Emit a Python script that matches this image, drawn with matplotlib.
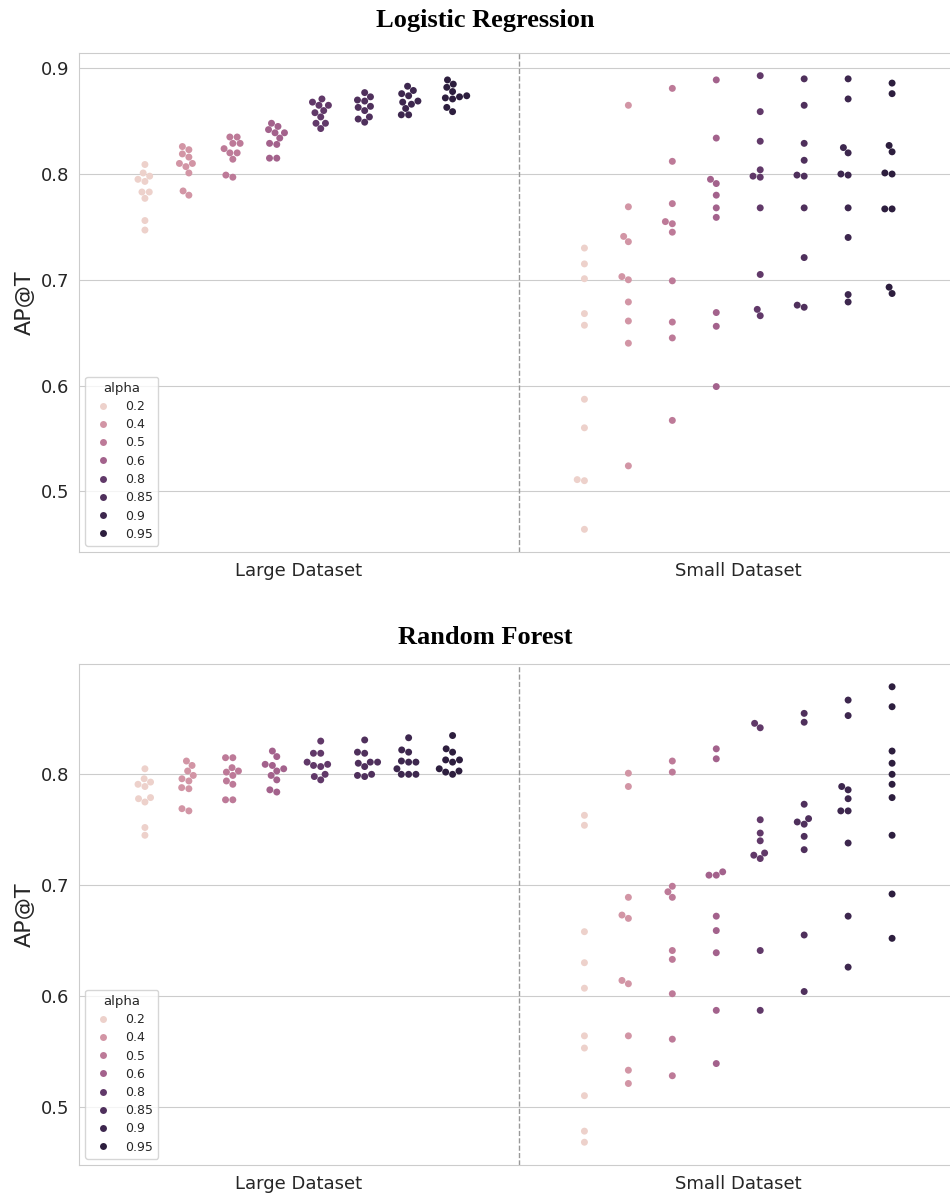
import numpy as np
import pandas as pd
import matplotlib
matplotlib.use("Agg")
import matplotlib.pyplot as plt
import seaborn as sns

# Hue levels and the two dataset sizes
alphas = [0.2, 0.4, 0.5, 0.6, 0.8, 0.85, 0.9, 0.95]
datasets = ["Large Dataset", "Small Dataset"]

# AP@T for each alpha (10 runs each), logistic regression
lr_large = [
    [0.809, 0.801, 0.798, 0.795, 0.793, 0.783, 0.783, 0.777, 0.756, 0.747],
    [0.826, 0.823, 0.819, 0.816, 0.810, 0.810, 0.807, 0.801, 0.784, 0.780],
    [0.835, 0.835, 0.829, 0.829, 0.824, 0.820, 0.820, 0.814, 0.799, 0.797],
    [0.848, 0.845, 0.842, 0.839, 0.839, 0.834, 0.829, 0.828, 0.815, 0.815],
    [0.871, 0.868, 0.865, 0.865, 0.860, 0.858, 0.854, 0.848, 0.848, 0.843],
    [0.877, 0.873, 0.870, 0.869, 0.864, 0.863, 0.860, 0.854, 0.852, 0.849],
    [0.883, 0.879, 0.876, 0.874, 0.869, 0.868, 0.866, 0.862, 0.856, 0.856],
    [0.889, 0.885, 0.882, 0.878, 0.874, 0.873, 0.872, 0.871, 0.863, 0.859],
]
lr_small = [
    [0.730, 0.715, 0.701, 0.668, 0.657, 0.587, 0.560, 0.511, 0.510, 0.464],
    [0.865, 0.769, 0.741, 0.736, 0.703, 0.700, 0.679, 0.661, 0.640, 0.524],
    [0.881, 0.812, 0.772, 0.755, 0.753, 0.745, 0.699, 0.660, 0.645, 0.567],
    [0.889, 0.834, 0.795, 0.791, 0.780, 0.768, 0.759, 0.669, 0.656, 0.599],
    [0.893, 0.859, 0.831, 0.804, 0.798, 0.797, 0.768, 0.705, 0.672, 0.666],
    [0.890, 0.865, 0.829, 0.813, 0.799, 0.798, 0.768, 0.721, 0.676, 0.674],
    [0.890, 0.871, 0.825, 0.820, 0.800, 0.799, 0.768, 0.740, 0.686, 0.679],
    [0.886, 0.876, 0.827, 0.821, 0.801, 0.800, 0.767, 0.767, 0.693, 0.687],
]

# AP@T for each alpha, random forest
rf_large = [
    [0.805, 0.796, 0.793, 0.791, 0.789, 0.779, 0.778, 0.775, 0.752, 0.745],
    [0.812, 0.808, 0.803, 0.799, 0.796, 0.794, 0.788, 0.787, 0.769, 0.767],
    [0.815, 0.815, 0.806, 0.802, 0.803, 0.799, 0.794, 0.791, 0.777, 0.777],
    [0.821, 0.816, 0.808, 0.809, 0.805, 0.803, 0.799, 0.795, 0.786, 0.784],
    [0.830, 0.819, 0.819, 0.811, 0.808, 0.807, 0.809, 0.798, 0.800, 0.795],
    [0.831, 0.820, 0.819, 0.810, 0.811, 0.811, 0.807, 0.799, 0.800, 0.798],
    [0.833, 0.822, 0.820, 0.811, 0.811, 0.812, 0.805, 0.800, 0.800, 0.800],
    [0.835, 0.823, 0.820, 0.813, 0.813, 0.811, 0.805, 0.802, 0.800, 0.803],
]
rf_small = [
    [0.763, 0.754, 0.658, 0.630, 0.607, 0.564, 0.553, 0.510, 0.478, 0.468],
    [0.801, 0.789, 0.689, 0.673, 0.670, 0.614, 0.611, 0.564, 0.533, 0.521],
    [0.812, 0.802, 0.699, 0.694, 0.689, 0.641, 0.633, 0.602, 0.561, 0.528],
    [0.823, 0.814, 0.712, 0.709, 0.709, 0.672, 0.659, 0.639, 0.587, 0.539],
    [0.846, 0.842, 0.759, 0.747, 0.740, 0.729, 0.727, 0.724, 0.641, 0.587],
    [0.855, 0.847, 0.773, 0.760, 0.757, 0.755, 0.744, 0.732, 0.655, 0.604],
    [0.867, 0.853, 0.789, 0.786, 0.778, 0.767, 0.767, 0.738, 0.672, 0.626],
    [0.879, 0.861, 0.821, 0.810, 0.800, 0.791, 0.779, 0.745, 0.692, 0.652],
]


def to_frame(large, small):
    rows = []
    for name, groups in zip(datasets, [large, small]):
        for a, vals in zip(alphas, groups):
            for v in vals:
                rows.append({"dataset": name, "alpha": a, "ap": v})
    return pd.DataFrame(rows)


sns.set_style("whitegrid")

fig = plt.figure(figsize=(9.5, 11.97), dpi=100)
ax_lr = fig.add_axes([79 / 950, 1 - 552 / 1197, 879 / 950, 499 / 1197])
ax_rf = fig.add_axes([79 / 950, 1 - 1165 / 1197, 879 / 950, 501 / 1197])

panels = [
    (ax_lr, to_frame(lr_large, lr_small), "Logistic Regression", 20),
    (ax_rf, to_frame(rf_large, rf_small), "Random Forest", 637),
]

for ax, df, title, title_y in panels:
    sns.swarmplot(data=df, x="dataset", y="ap", hue="alpha", order=datasets,
                  dodge=True, size=5, legend="full", ax=ax)
    ax.axvline(0.5, color="#999999", linestyle="--", linewidth=1)
    ax.set_xlabel("")
    ax.set_ylabel("AP@T", fontsize=16, color="#262626")
    ax.tick_params(axis="both", labelsize=13, colors="#262626")
    sns.move_legend(ax, "lower left", title="alpha", fontsize=9,
                    title_fontsize=9.5, frameon=True, labelspacing=0.42)
    fig.text(485 / 950, 1 - title_y / 1197, title, ha="center", va="center",
             fontsize=19, fontweight="bold", family="Liberation Serif",
             color="black")

fig.savefig("out.png", dpi=100)
